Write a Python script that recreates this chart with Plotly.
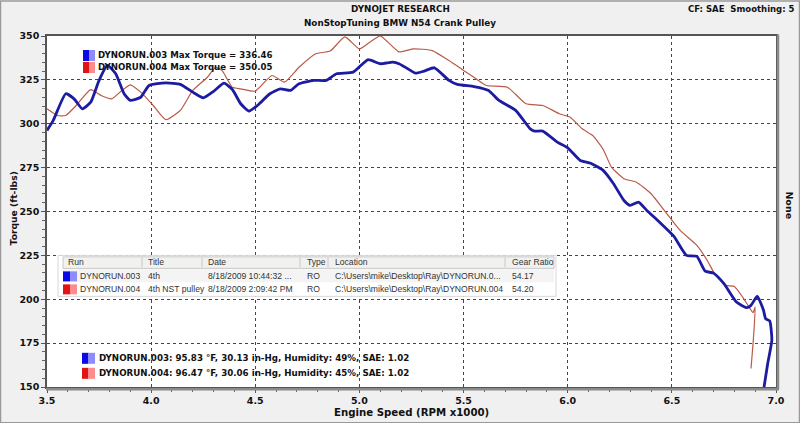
import plotly.graph_objects as go

# ---------------- data ----------------
rpm_003 = [3.50, 3.53, 3.59, 3.63, 3.67, 3.71, 3.75, 3.79, 3.83, 3.87, 3.90, 3.95, 3.99,
           4.07, 4.14, 4.20, 4.25, 4.30, 4.35, 4.39, 4.43, 4.47, 4.51, 4.57, 4.62, 4.67,
           4.71, 4.78, 4.84, 4.89, 4.97, 5.04, 5.10, 5.16, 5.19, 5.23, 5.27, 5.31, 5.36,
           5.43, 5.47, 5.55, 5.62, 5.67, 5.75, 5.82, 5.84, 5.88, 5.95, 6.00, 6.06, 6.11,
           6.17, 6.22, 6.27, 6.30, 6.34, 6.38, 6.44, 6.51, 6.57, 6.62, 6.66, 6.70, 6.75,
           6.81, 6.86, 6.88, 6.91, 6.94, 6.95, 6.97, 6.98, 6.96, 6.94]
tq_003 = [296.2, 301.9, 317.1, 314.2, 308.5, 312.3, 324.7, 333.2, 328.5, 317.1, 313.3, 315.1, 321.8,
          323.3, 322.4, 318.0, 314.8, 318.5, 323.1, 319.5, 311.4, 307.2, 310.4, 317.1, 319.9, 319.0,
          322.8, 324.7, 324.7, 328.5, 329.4, 336.46, 334.2, 335.1, 334.2, 331.5, 328.8, 330.0, 331.9,
          324.7, 322.4, 321.2, 319.0, 313.3, 307.6, 297.1, 295.8, 295.8, 289.5, 286.3, 279.1, 277.5,
          273.4, 265.8, 256.3, 253.5, 255.3, 250.6, 244.0, 235.8, 225.0, 224.4, 216.0, 214.9, 208.9,
          198.4, 195.2, 196.5, 201.7, 193.7, 189.0, 187.6, 176.6, 163.3, 148.0]

rpm_004 = [3.50, 3.55, 3.59, 3.64, 3.71, 3.76, 3.81, 3.86, 3.90, 3.95, 4.01, 4.07, 4.14,
           4.20, 4.27, 4.31, 4.34, 4.39, 4.43, 4.50, 4.58, 4.64, 4.71, 4.79, 4.86, 4.93,
           5.00, 5.05, 5.10, 5.19, 5.26, 5.35, 5.43, 5.50, 5.56, 5.61, 5.71, 5.80, 5.88,
           5.96, 6.01, 6.07, 6.12, 6.17, 6.21, 6.27, 6.33, 6.40, 6.47, 6.54, 6.62, 6.67,
           6.71, 6.76, 6.80, 6.84, 6.87, 6.89, 6.90, 6.89, 6.88]
tq_004 = [308.5, 304.7, 304.7, 310.4, 319.4, 316.1, 314.2, 319.0, 322.2, 318.0, 310.4, 302.3, 307.6,
          319.0, 326.5, 332.2, 330.4, 320.8, 319.9, 318.6, 327.5, 323.7, 332.2, 339.9, 341.4, 349.5,
          342.7, 346.5, 350.05, 341.0, 342.7, 341.7, 336.0, 330.4, 325.6, 321.8, 320.8, 311.4, 310.4,
          305.7, 303.8, 297.1, 293.3, 285.5, 275.3, 268.7, 266.7, 260.1, 249.7, 239.2, 230.7, 222.1,
          213.6, 207.9, 207.3, 201.2, 195.6, 192.4, 195.6, 175.0, 160.5]

x_ticks = [3.5, 4.0, 4.5, 5.0, 5.5, 6.0, 6.5, 7.0]
y_ticks = [150, 175, 200, 225, 250, 275, 300, 325, 350]

runs = ["DYNORUN.003", "DYNORUN.004"]
max_torque = ["336.46", "350.05"]
table_header = ["Run", "Title", "Date", "Type", "Location", "Gear Ratio"]
table_rows = [
    ["DYNORUN.003", "4th", "8/18/2009 10:44:32 ...", "RO", "C:\\Users\\mike\\Desktop\\Ray\\DYNORUN.0...", "54.17"],
    ["DYNORUN.004", "4th NST pulley", "8/18/2009 2:09:42 PM", "RO", "C:\\Users\\mike\\Desktop\\Ray\\DYNORUN.004", "54.20"],
]
conditions = ["95.83 °F, 30.13 in-Hg, Humidity: 49%, SAE: 1.02",
              "96.47 °F, 30.06 in-Hg, Humidity: 45%, SAE: 1.02"]

# ---------------- style ----------------
W, H = 800, 423
L, R, T, B = 47, 776, 35.5, 386.7
BLUE = "#1c1ca0"
RED = "#b85a46"
SW_DARK = ["#0a0ae6", "#e01414"]
SW_LIGHT = ["#8c8cff", "#ff8c8c"]
FONT = "Tahoma, DejaVu Sans, Verdana, sans-serif"
TFONT = "Liberation Sans, Arial, sans-serif"


def px(x):
    return (x - L) / (R - L)


def py(y):
    return (B - y) / (B - T)


fig = go.Figure()
fig.add_trace(go.Scatter(x=rpm_004, y=tq_004, mode="lines",
                         line=dict(color=RED, width=1.2, shape="spline", smoothing=0.5),
                         hoverinfo="skip", showlegend=False))
fig.add_trace(go.Scatter(x=rpm_003, y=tq_003, mode="lines",
                         line=dict(color=BLUE, width=2.8, shape="spline", smoothing=0.5),
                         hoverinfo="skip", showlegend=False))

shapes = []
ann = []

# outer window frame
shapes.append(dict(type="rect", xref="paper", yref="paper", x0=px(0.5), x1=px(799.5), y0=py(422.5), y1=py(0.5),
                   line=dict(color="#9a9a9a", width=1.5), layer="below"))
# plot shadow (right / bottom)
shapes.append(dict(type="line", xref="paper", yref="paper", x0=px(778), x1=px(778), y0=py(389), y1=py(34),
                   line=dict(color="#8a8a8a", width=2.5)))
shapes.append(dict(type="line", xref="paper", yref="paper", x0=px(46), x1=px(779), y0=py(389), y1=py(389),
                   line=dict(color="#8a8a8a", width=2.5)))

# top legend (max torque)
for i, (r, m) in enumerate(zip(runs, max_torque)):
    yc = 55 + i * 12
    shapes.append(dict(type="rect", xref="paper", yref="paper", x0=px(83), x1=px(89), y0=py(yc + 5.5), y1=py(yc - 5.5),
                       fillcolor=SW_DARK[i], line=dict(width=0)))
    shapes.append(dict(type="rect", xref="paper", yref="paper", x0=px(89), x1=px(95), y0=py(yc + 5.5), y1=py(yc - 5.5),
                       fillcolor=SW_LIGHT[i], line=dict(width=0)))
    ann.append(dict(xref="paper", yref="paper", x=px(96), y=py(yc), xanchor="left", yanchor="middle",
                    text=f"{r} Max Torque = {m}", showarrow=False,
                    font=dict(family=FONT, size=8.6, color="#111", weight="bold")))

# table
tx0, tx1, ty0, ty1 = 58, 556, 255, 296
shapes.append(dict(type="rect", xref="paper", yref="paper", x0=px(tx0), x1=px(tx1), y0=py(ty1), y1=py(ty0),
                   fillcolor="white", line=dict(color="#d8d8d8", width=1)))
shapes.append(dict(type="rect", xref="paper", yref="paper", x0=px(63), x1=px(554), y0=py(268), y1=py(256.5),
                   fillcolor="#f1f1ef", line=dict(color="#c8c8c8", width=1)))
shapes.append(dict(type="rect", xref="paper", yref="paper", x0=px(63), x1=px(554), y0=py(282), y1=py(269),
                   fillcolor="#f4f4f4", line=dict(width=0)))
col_x = [66, 146, 206, 305, 333, 510]
sep_x = [142, 202, 300, 328, 505]
for sx in sep_x:
    shapes.append(dict(type="line", xref="paper", yref="paper", x0=px(sx), x1=px(sx), y0=py(267), y1=py(257),
                       line=dict(color="#c8c8c8", width=1)))
for cx, h in zip(col_x, table_header):
    ann.append(dict(xref="paper", yref="paper", x=px(cx), y=py(262), xanchor="left", yanchor="middle",
                    text=h, showarrow=False, font=dict(family=TFONT, size=8.6, color="#333")))
for ri, row in enumerate(table_rows):
    yc = 276 + ri * 13
    shapes.append(dict(type="rect", xref="paper", yref="paper", x0=px(63), x1=px(70), y0=py(yc + 5), y1=py(yc - 5),
                       fillcolor=SW_DARK[ri], line=dict(width=0)))
    shapes.append(dict(type="rect", xref="paper", yref="paper", x0=px(70), x1=px(77), y0=py(yc + 5), y1=py(yc - 5),
                       fillcolor=SW_LIGHT[ri], line=dict(width=0)))
    xs = [78] + col_x[1:]
    for cx, txt in zip(xs, row):
        ann.append(dict(xref="paper", yref="paper", x=px(cx), y=py(yc), xanchor="left", yanchor="middle",
                        text=txt, showarrow=False, font=dict(family=TFONT, size=8.6, color="#333")))

# bottom legend (conditions)
for i, (r, c) in enumerate(zip(runs, conditions)):
    yc = 358 + i * 15
    shapes.append(dict(type="rect", xref="paper", yref="paper", x0=px(82), x1=px(88.5), y0=py(yc + 5.5), y1=py(yc - 5.5),
                       fillcolor=SW_DARK[i], line=dict(width=0)))
    shapes.append(dict(type="rect", xref="paper", yref="paper", x0=px(88.5), x1=px(95), y0=py(yc + 5.5), y1=py(yc - 5.5),
                       fillcolor=SW_LIGHT[i], line=dict(width=0)))
    ann.append(dict(xref="paper", yref="paper", x=px(96.5), y=py(yc), xanchor="left", yanchor="middle",
                    text=f"{r}: {c}", showarrow=False,
                    font=dict(family=FONT, size=8.7, color="#111", weight="bold")))

# titles
ann.append(dict(xref="paper", yref="paper", x=px(400), y=py(8), xanchor="center", yanchor="middle",
                text="DYNOJET RESEARCH", showarrow=False,
                font=dict(family=FONT, size=8.8, color="#111", weight="bold")))
ann.append(dict(xref="paper", yref="paper", x=px(400), y=py(22), xanchor="center", yanchor="middle",
                text="NonStopTuning BMW N54 Crank Pulley", showarrow=False,
                font=dict(family=FONT, size=8.8, color="#111", weight="bold")))
ann.append(dict(xref="paper", yref="paper", x=px(797), y=py(8), xanchor="right", yanchor="middle",
                text="CF: SAE  Smoothing: 5", showarrow=False,
                font=dict(family=FONT, size=8.5, color="#111", weight="bold")))
ann.append(dict(xref="paper", yref="paper", x=px(13), y=py(208), xanchor="center", yanchor="middle",
                text="Torque (ft-lbs)", textangle=-90, showarrow=False,
                font=dict(family=FONT, size=9.2, color="#111", weight="bold")))
ann.append(dict(xref="paper", yref="paper", x=px(790), y=py(205), xanchor="center", yanchor="middle",
                text="None", textangle=90, showarrow=False,
                font=dict(family=FONT, size=9.5, color="#111", weight="bold")))
ann.append(dict(xref="paper", yref="paper", x=px(411), y=py(412), xanchor="center", yanchor="middle",
                text="Engine Speed (RPM x1000)", showarrow=False,
                font=dict(family=FONT, size=10.2, color="#111", weight="bold")))

fig.update_layout(
    width=W, height=H,
    margin=dict(l=L, r=W - R, t=T, b=H - B, pad=0),
    paper_bgcolor="#f0f0f0", plot_bgcolor="white",
    shapes=shapes, annotations=ann, showlegend=False,
    xaxis=dict(range=[3.5, 7.0], tickvals=x_ticks, ticktext=[f"{v:.1f}" for v in x_ticks],
               showgrid=True, gridcolor="#444", griddash="dot", gridwidth=1,
               showline=True, linecolor="#555", linewidth=1.5, mirror=True,
               ticks="outside", ticklen=4, tickcolor="#555",
               minor=dict(dtick=0.1, ticks="outside", ticklen=3, tickcolor="#666", showgrid=False),
               tickfont=dict(family=FONT, size=9.5, color="#111", weight="bold"),
               zeroline=False, fixedrange=True),
    yaxis=dict(range=[150, 350], tickvals=y_ticks,
               showgrid=True, gridcolor="#444", griddash="dot", gridwidth=1,
               showline=True, linecolor="#555", linewidth=1.5, mirror=True,
               ticks="outside", ticklen=4, tickcolor="#555",
               minor=dict(dtick=5, ticks="outside", ticklen=3, tickcolor="#666", showgrid=False),
               tickfont=dict(family=FONT, size=9.5, color="#111", weight="bold"),
               zeroline=False, fixedrange=True),
)

fig.write_html("out.html")
